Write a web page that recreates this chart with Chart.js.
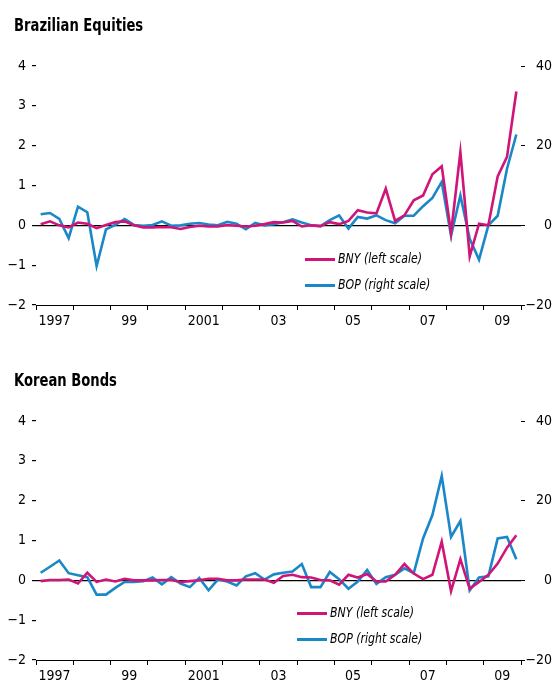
<!DOCTYPE html>
<html>
<head>
<meta charset="utf-8">
<script src="https://cdn.jsdelivr.net/npm/chart.js@4/dist/chart.umd.min.js"></script>
<style>
   body { margin: 0; width: 554px; height: 683px; overflow: hidden; background: #fff; font-family: 'Liberation Sans Narrow', 'DejaVu Sans Condensed', sans-serif; }
   .panel { position: absolute; left: 0; width: 554px; height: 340px; }
   .title { position: absolute; left: 14px; top: 17px; font-size: 17px; font-weight: bold; line-height: 17px; color: #000; transform: scaleX(0.86); transform-origin: left top; white-space: nowrap; }
   .leg { position: absolute; font-size: 14px; font-style: italic; line-height: 14px; color: #000; white-space: nowrap; }
   .leg span { display: inline-block; width: 30px; height: 3px; vertical-align: middle; margin-right: 3px; }
   .leg em { display: inline-block; transform: scaleX(0.87); transform-origin: left center; }
</style>
</head>
<body>
<div class="panel" style="top:0">
   <canvas id="eqChart" width="554" height="340"></canvas>
   <div class="title">Brazilian Equities</div>
   <div class="leg" style="left:305px; top:251px"><span style="background:#cf1578"></span><em>BNY (left scale)</em></div>
   <div class="leg" style="left:305px; top:277px"><span style="background:#1a87c8"></span><em>BOP (right scale)</em></div>
</div>
<div class="panel" style="top:355px">
   <canvas id="bondChart" width="554" height="340"></canvas>
   <div class="title">Korean Bonds</div>
   <div class="leg" style="left:297px; top:250px"><span style="background:#cf1578"></span><em>BNY (left scale)</em></div>
   <div class="leg" style="left:297px; top:276px"><span style="background:#1a87c8"></span><em>BOP (right scale)</em></div>
</div>
<script>
//1) DATA (quarterly, 1997Q1 - 2009Q4)//
// one entry per year boundary, 1997 ... 2010 (labels sit in the middle of each year)
var yearLabels = ['1997', '', '99', '', '2001', '', '03', '', '05', '', '07', '', '09', ''];
var leftTicks = [-2, -1, 0, 1, 2, 3, 4];
var rightTicks = [-20, 0, 20, 40];

// Brazilian equities
var eqBNY = [0.03, 0.1, 0.0, -0.05, 0.07, 0.04, -0.07, 0.01, 0.08, 0.1,
   0.0, -0.05, -0.05, -0.04, -0.05, -0.09, -0.04, -0.01, -0.03, -0.03,
   0.01, -0.01, -0.03, -0.01, 0.03, 0.08, 0.07, 0.11, -0.03, 0.0,
   -0.02, 0.08, 0.03, 0.11, 0.38, 0.32, 0.30, 0.92, 0.11, 0.25,
   0.63, 0.75, 1.28, 1.48, -0.19, 1.84, -0.78, 0.04, 0.0, 1.23, 1.72, 3.36];
var eqBOP = [2.8, 3.1, 1.6, -3.2, 4.7, 3.3, -10.2, -1.0, 0.1, 1.6,
   0.1, -0.1, 0.1, 1.0, -0.1, 0.0, 0.4, 0.6, 0.2, 0.0,
   0.9, 0.4, -1.0, 0.6, 0.0, 0.3, 0.8, 1.5, 0.7, 0.0,
   -0.2, 1.3, 2.5, -0.8, 2.1, 1.7, 2.5, 1.3, 0.5, 2.4,
   2.4, 4.8, 6.9, 10.9, -2.6, 7.5, -3.4, -8.6, 0.0, 2.4, 14.2, 22.8];

// Korean bonds
var bondBNY = [-0.02, 0.01, 0.01, 0.02, -0.08, 0.19, -0.04, 0.02, -0.03, 0.04,
   0.0, 0.0, 0.0, 0.01, 0.01, -0.04, -0.02, 0.0, 0.04, 0.04,
   0.0, 0.0, 0.02, 0.02, 0.02, -0.06, 0.11, 0.14, 0.08, 0.07,
   0.01, 0.0, -0.11, 0.14, 0.07, 0.16, -0.03, -0.03, 0.14, 0.41,
   0.17, 0.03, 0.14, 0.97, -0.27, 0.53, -0.21, -0.04, 0.14, 0.42, 0.82, 1.13];
var bondBOP = [1.9, 3.4, 5.0, 1.8, 1.3, 0.8, -3.6, -3.6, -1.9, -0.4,
   -0.4, -0.2, 0.7, -1.0, 0.8, -0.8, -1.7, 0.6, -2.5, 0.2,
   -0.3, -1.3, 1.0, 1.8, 0.2, 1.5, 1.9, 2.2, 4.1, -1.7,
   -1.7, 2.1, 0.3, -2.1, -0.3, 2.6, -0.9, 0.8, 1.4, 3.0,
   1.8, 10.5, 16.4, 26.2, 10.9, 14.9, -2.5, 0.7, 1.0, 10.5, 10.9, 5.3];

//2) STYLE//
var pink = '#cf1578';
var blue = '#1a87c8';
var tickFont = { family: "'Liberation Sans Narrow', 'DejaVu Sans Condensed', sans-serif", size: 14 };
var xMax = (yearLabels.length - 1) * 4;

function toPoints(arr) {
   // each quarter sits in the middle of its slot on the year axis
   return arr.map((v, i) => ({ x: i + 0.5, y: v }));
}
function minus(v) {
   return v < 0 ? '\u2212' + Math.abs(v) : '' + v;
}

//3) CHARTS//
function makeChart(id, bny, bop) {
   var ctx = document.getElementById(id).getContext('2d');
   return new Chart(ctx, {
      type: 'line',
      data: {
         datasets: [{
            label: 'BNY (left scale)',
            data: toPoints(bny),
            yAxisID: 'y',
            borderColor: pink,
            borderWidth: 2.6,
            pointRadius: 0,
            tension: 0
         }, {
            label: 'BOP (right scale)',
            data: toPoints(bop),
            yAxisID: 'y2',
            borderColor: blue,
            borderWidth: 2.6,
            pointRadius: 0,
            tension: 0
         }]
      },
      options: {
         responsive: false,
         animation: false,
         layout: { padding: { top: 66, bottom: 5, left: 0, right: 2 } },
         plugins: {
            legend: { display: false },
            tooltip: { enabled: false }
         },
         scales: {
            x: {
               type: 'linear',
               min: 0,
               max: xMax,
               afterBuildTicks: s => {
                  s.ticks = yearLabels.map((l, i) => ({ value: i * 4 }));
               },
               afterFit: s => { s.height = 30; },
               ticks: {
                  autoSkip: false,
                  maxRotation: 0,
                  labelOffset: 18.6,
                  padding: 3,
                  color: '#000',
                  font: tickFont,
                  callback: v => yearLabels[v / 4] || ''
               },
               grid: { drawOnChartArea: false, tickLength: 5, color: '#000', tickColor: '#000' },
               border: { color: '#000', width: 1 }
            },
            y: {
               position: 'left',
               min: -2,
               max: 4,
               afterBuildTicks: s => { s.ticks = leftTicks.map(v => ({ value: v })); },
               afterFit: s => { s.width = 36; },
               ticks: { padding: 6, color: '#000', font: tickFont, callback: minus },
               grid: {
                  color: c => (c.tick && c.tick.value === 0) ? '#000' : 'rgba(0,0,0,0)',
                  tickColor: '#000',
                  tickLength: 4,
                  lineWidth: 1.2
               },
               border: { display: false }
            },
            y2: {
               position: 'right',
               min: -20,
               max: 40,
               afterBuildTicks: s => { s.ticks = rightTicks.map(v => ({ value: v })); },
               afterFit: s => { s.width = 31; },
               ticks: { padding: 12, crossAlign: 'far', color: '#000', font: tickFont, callback: minus },
               grid: { drawOnChartArea: false, tickColor: '#000', tickLength: 4 },
               border: { display: false }
            }
         }
      }
   });
}

var eqChart = makeChart('eqChart', eqBNY, eqBOP);
var bondChart = makeChart('bondChart', bondBNY, bondBOP);
</script>
</body>
</html>
